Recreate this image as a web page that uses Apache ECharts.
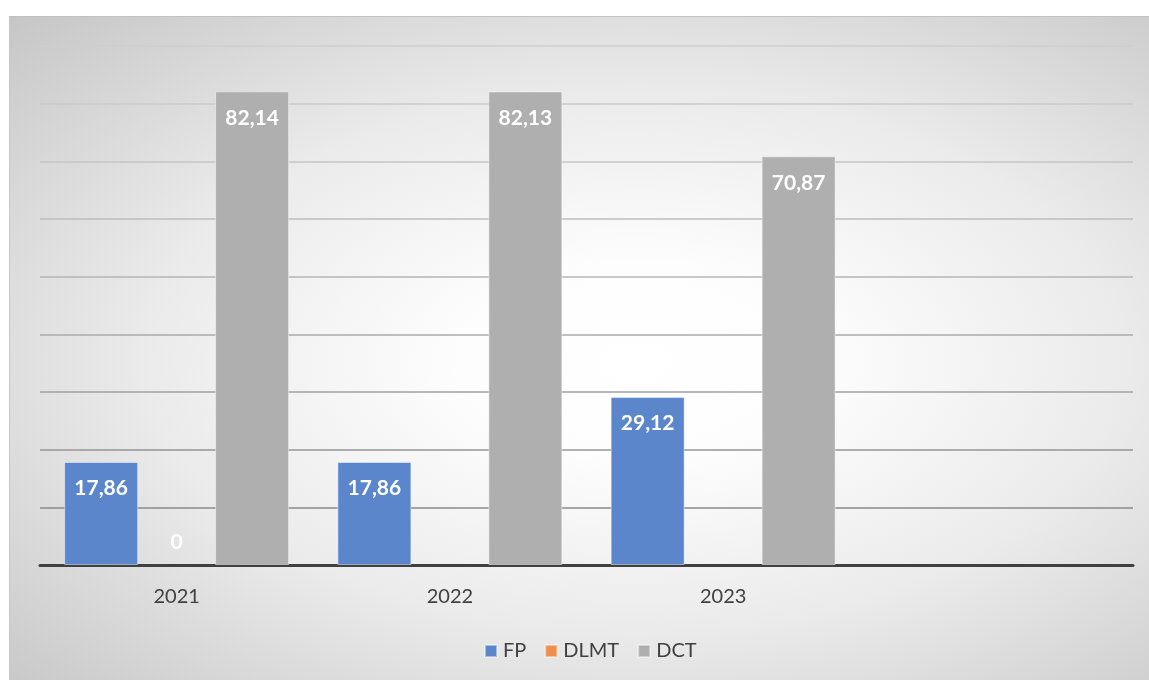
<!DOCTYPE html>
<html>
<head>
<meta charset="utf-8">
<script src="https://cdn.jsdelivr.net/npm/echarts@6/dist/echarts.min.js"></script>
<style>
  html, body { margin: 0; padding: 0; background: #ffffff; }
  #chart {
    position: absolute;
    left: 9px;
    top: 16px;
    width: 1140px;
    height: 664px;
    box-sizing: border-box;
    border-top: 1px solid #c2c2c2;
    border-left: 1px solid #c6c6c6;
    background: radial-gradient(ellipse farthest-corner at 55% 52%, #ffffff 0%, #fdfdfd 20%, #ebebeb 55%, #c6c6c6 100%);
  }
</style>
</head>
<body>
<div id="chart"></div>
<script>
// categories (the 4th slot is empty in the original)
const years = ['2021', '2022', '2023', '']
const fpValues = [17.86, 17.86, 29.12, null]
const dlmtValues = [0, null, null, null]
const dctValues = [82.14, 82.13, 70.87, null]

const seriesNames = ['FP', 'DLMT', 'DCT']
const seriesColors = ['#5b86cc', '#f08e4c', '#afafaf']

// gridlines get darker towards the bottom
const gridColors = ['#8a8a8a', '#8a8a8a', '#959595', '#a0a0a0', '#aaaaaa', '#b4b4b4', '#bcbcbc', '#c4c4c4', '#cacaca', '#cecece']

const fmt = v => String(v).replace('.', ',')

const chart = echarts.init(document.getElementById('chart'))

// zero-height bars get their label above the axis, and no outline
const toItems = arr => arr.map(v => v === 0
  ? { value: v, itemStyle: { borderWidth: 0 }, label: { position: 'top', distance: 12 } }
  : v)

const makeSeries = (name, values, color) => ({
  name,
  type: 'bar',
  data: toItems(values),
  barWidth: 74,
  barGap: '2%',
  itemStyle: {
    color,
    borderColor: 'rgba(255,255,255,0.45)',
    borderWidth: 1
  },
  label: {
    show: true,
    position: 'insideTop',
    distance: 16,
    color: '#ffffff',
    fontFamily: 'Lato',
    fontWeight: 'bold',
    fontSize: 21,
    formatter: p => p.value == null ? '' : fmt(p.value)
  }
})

const option = {
  backgroundColor: 'transparent',
  animation: false,
  grid: {
    left: 30,
    right: 16,
    top: 29,
    bottom: 115,
    containLabel: false
  },
  legend: {
    data: seriesNames,
    left: 469,
    top: 619,
    icon: 'rect',
    itemWidth: 12,
    itemHeight: 12,
    itemGap: 18,
    textStyle: {
      color: '#404040',
      fontFamily: 'Lato',
      fontSize: 20,
      padding: [0, 0, 0, 1]
    }
  },
  xAxis: {
    type: 'category',
    data: years,
    axisLine: { show: true, lineStyle: { color: '#404040', width: 3 } },
    axisTick: { show: false },
    axisLabel: {
      color: '#404040',
      fontFamily: 'Lato',
      fontSize: 20,
      margin: 22
    },
    splitLine: { show: false }
  },
  yAxis: {
    type: 'value',
    min: 0,
    max: 90,
    interval: 10,
    axisLine: { show: false },
    axisTick: { show: false },
    axisLabel: { show: false },
    splitLine: {
      show: true,
      lineStyle: { color: gridColors, width: 1.5 }
    }
  },
  series: [
    makeSeries(seriesNames[0], fpValues, seriesColors[0]),
    makeSeries(seriesNames[1], dlmtValues, seriesColors[1]),
    makeSeries(seriesNames[2], dctValues, seriesColors[2])
  ]
}

chart.setOption(option)
</script>
</body>
</html>
